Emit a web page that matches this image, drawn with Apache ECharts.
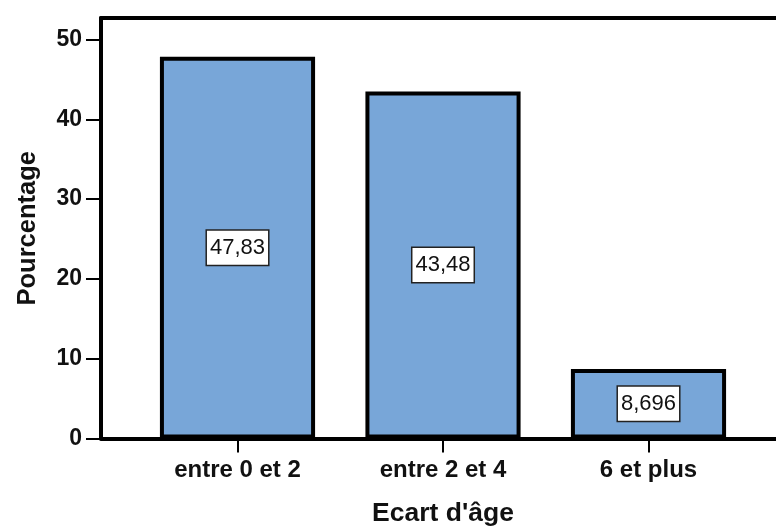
<!DOCTYPE html>
<html>
<head>
<meta charset="utf-8">
<script src="https://cdn.jsdelivr.net/npm/echarts@6/dist/echarts.min.js"></script>
<style>
html,body{margin:0;padding:0;background:#fff;}
#c{width:776px;height:526px;}
</style>
</head>
<body>
<div id="c"></div>
<script>
var categories = ['entre 0 et 2', 'entre 2 et 4', '6 et plus'];
var percentages = [47.83, 43.48, 8.696];
var yTicks = [0, 10, 20, 30, 40, 50];

var FONT = '"Liberation Sans", Arial, sans-serif';
var chart = echarts.init(document.getElementById('c'));
var frameLine = {show: true, lineStyle: {color: '#000', width: 4}};
chart.setOption({
  animation: false,
  backgroundColor: '#ffffff',
  grid: [
    {left: 101, top: 18, right: -60, bottom: 87.5, containLabel: false, outerBoundsMode: 'none'},
    {left: 134.75, top: 18, width: 616.5, bottom: 87.5, containLabel: false, outerBoundsMode: 'none'}
  ],
  xAxis: [
    {gridIndex: 0, type: 'value', min: 0, max: 1, position: 'bottom', axisLine: frameLine, axisTick: {show: false}, axisLabel: {show: false}, splitLine: {show: false}},
    {gridIndex: 0, type: 'value', min: 0, max: 1, position: 'top', axisLine: frameLine, axisTick: {show: false}, axisLabel: {show: false}, splitLine: {show: false}},
    {
      gridIndex: 1, type: 'category', data: categories,
      axisLine: {show: false},
      axisTick: {show: true, alignWithLabel: true, length: 14, lineStyle: {color: '#000', width: 2}},
      axisLabel: {margin: 20, fontSize: 24, fontWeight: 'bold', fontFamily: FONT, color: '#111'},
      name: "Ecart d'âge", nameLocation: 'middle', nameGap: 62,
      nameTextStyle: {fontSize: 26.5, fontWeight: 'bold', fontFamily: FONT, color: '#111'}
    }
  ],
  yAxis: [
    {
      gridIndex: 0, type: 'value', min: 0, max: 52.7,
      axisLine: frameLine,
      splitLine: {show: false},
      axisTick: {show: true, length: 15, customValues: yTicks, lineStyle: {color: '#000', width: 2}},
      axisLabel: {margin: 19, customValues: yTicks, fontSize: 23, fontWeight: 'bold', fontFamily: FONT, color: '#111'},
      name: 'Pourcentage', nameLocation: 'middle', nameGap: 60, nameRotate: 90,
      nameTextStyle: {fontSize: 25.5, fontWeight: 'bold', fontFamily: FONT, color: '#111'}
    },
    {gridIndex: 1, type: 'value', min: 0, max: 52.7, show: false}
  ],
  series: [{
    type: 'bar',
    xAxisIndex: 2, yAxisIndex: 1,
    data: percentages,
    barWidth: '75.5%',
    itemStyle: {color: '#78a6d8', borderColor: '#000', borderWidth: 4},
    label: {
      show: true, position: 'inside',
      formatter: function (p) { return String(p.value).replace('.', ','); },
      fontSize: 22, fontFamily: FONT, color: '#111',
      backgroundColor: '#fff', borderColor: '#222', borderWidth: 1.5,
      padding: [6, 3, 6, 3]
    }
  }]
});
</script>
</body>
</html>
